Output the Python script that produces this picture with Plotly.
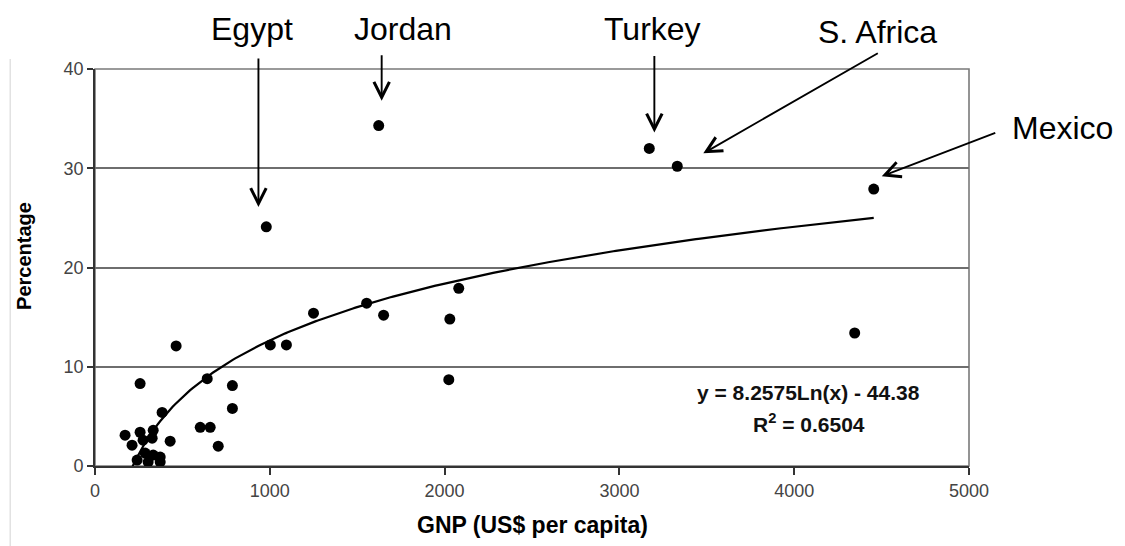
import numpy as np
import plotly.graph_objects as go

# ---- data ----
gnp = [1623, 980, 3171, 3331, 4455, 4346, 1554, 1651, 1250, 2081, 2030, 2024,
       1003, 1095, 464, 258, 642, 786, 786, 384, 602, 659, 705, 430,
       172, 258, 333, 212, 275, 327, 287, 333, 373, 241, 304, 373]
pct = [34.3, 24.1, 32.0, 30.2, 27.9, 13.4, 16.4, 15.2, 15.4, 17.9, 14.8, 8.7,
       12.2, 12.2, 12.1, 8.3, 8.8, 8.1, 5.8, 5.4, 3.9, 3.9, 2.0, 2.5,
       3.1, 3.4, 3.6, 2.1, 2.6, 2.8, 1.3, 1.1, 0.9, 0.6, 0.4, 0.4]

# logarithmic trend line shown on the chart: y = a*Ln(x) + b
trend_a = 8.2575
trend_b = -44.38
r_squared = 0.6504

X_MAX = 5000
Y_MAX = 40
x_ticks = [0, 1000, 2000, 3000, 4000, 5000]
y_ticks = [0, 10, 20, 30, 40]

# labelled countries: name, label position (data units), arrow tip, arrow tail offset (px)
labels = ["Egypt", "Jordan", "Turkey", "S. Africa", "Mexico"]
label_x = [900, 1760, 3188, 4478, 5533]
label_y = [44.0, 44.0, 44.0, 43.7, 34.1]
tip_x = [935, 1640, 3200, 3480, 4501]
tip_y = [26.1, 36.8, 33.6, 31.5, 29.2]
tail_dx = [0, 0, 0, 176, 115]
tail_dy = [-150, -47, -78, -101, -44]

FONT = "Liberation Sans, Arial, sans-serif"

fig = go.Figure()

tx = np.linspace(min(gnp), max(gnp), 300)
ty = trend_a * np.log(tx) + trend_b
fig.add_trace(go.Scatter(x=tx, y=ty, mode="lines",
                         line=dict(color="black", width=2.2),
                         hoverinfo="skip", showlegend=False))

fig.add_trace(go.Scatter(x=gnp, y=pct, mode="markers",
                         marker=dict(color="black", size=11),
                         showlegend=False, cliponaxis=False))

ann = []
for name, lx, ly in zip(labels, label_x, label_y):
    ann.append(dict(x=lx / X_MAX, y=ly / Y_MAX, xref="paper", yref="paper",
                    text=name, showarrow=False,
                    font=dict(family=FONT, size=32, color="black"),
                    xanchor="center", yanchor="middle"))
for x0, y0, dx, dy in zip(tip_x, tip_y, tail_dx, tail_dy):
    ann.append(dict(x=x0, y=y0, xref="x", yref="y", text="", showarrow=True,
                    ax=dx, ay=dy, axref="pixel", ayref="pixel",
                    arrowhead=5, arrowsize=1.6, arrowwidth=1.9, arrowcolor="black"))

ann.append(dict(x=4083, y=7.4, xref="x", yref="y",
                text=f"<b>y = {trend_a}Ln(x) - {abs(trend_b):.2f}</b>", showarrow=False,
                font=dict(family=FONT, size=21, color="#111"), xanchor="center"))
ann.append(dict(x=4083, y=4.3, xref="x", yref="y",
                text=f"<b>R<sup>2</sup> = {r_squared}</b>", showarrow=False,
                font=dict(family=FONT, size=21, color="#111"), xanchor="center"))

# axis titles
ann.append(dict(x=0.5, y=-0.148, xref="paper", yref="paper",
                text="<b>GNP (US$ per capita)</b>", showarrow=False,
                font=dict(family=FONT, size=23, color="black"),
                xanchor="center", yanchor="middle"))
ann.append(dict(x=-0.082, y=0.53, xref="paper", yref="paper",
                text="<b>Percentage</b>", showarrow=False, textangle=-90,
                font=dict(family=FONT, size=20, color="black"),
                xanchor="center", yanchor="middle"))

shapes = [
    dict(type="rect", xref="paper", yref="paper", x0=0, x1=1, y0=0, y1=1,
         line=dict(color="#7a7a7a", width=1.6), layer="below"),
    dict(type="line", xref="paper", yref="paper", x0=-0.097, x1=-0.097,
         y0=1.025, y1=-0.23, line=dict(color="#e2e2e2", width=1.5)),
]

# the page adds an 8px body margin, so the plot area is offset to compensate
fig.update_layout(
    width=1125, height=546,
    margin=dict(l=87, r=164, t=61, b=88),
    paper_bgcolor="white", plot_bgcolor="white",
    annotations=ann, shapes=shapes,
    font=dict(family=FONT),
)
fig.update_xaxes(range=[0, X_MAX], tickvals=x_ticks, showgrid=False, zeroline=False,
                 showline=True, linecolor="#333", linewidth=1.8,
                 ticks="outside", ticklen=7, tickcolor="#333", tickwidth=1.5,
                 tickfont=dict(family=FONT, size=18, color="#444"))
fig.update_yaxes(range=[0, Y_MAX], tickvals=y_ticks, showgrid=True, gridcolor="#6e6e6e",
                 gridwidth=1.6, zeroline=False,
                 showline=True, linecolor="#333", linewidth=1.8,
                 ticks="outside", ticklen=6, tickcolor="#333", tickwidth=1.5,
                 tickfont=dict(family=FONT, size=18, color="#444"))

fig.write_html("out.html")
